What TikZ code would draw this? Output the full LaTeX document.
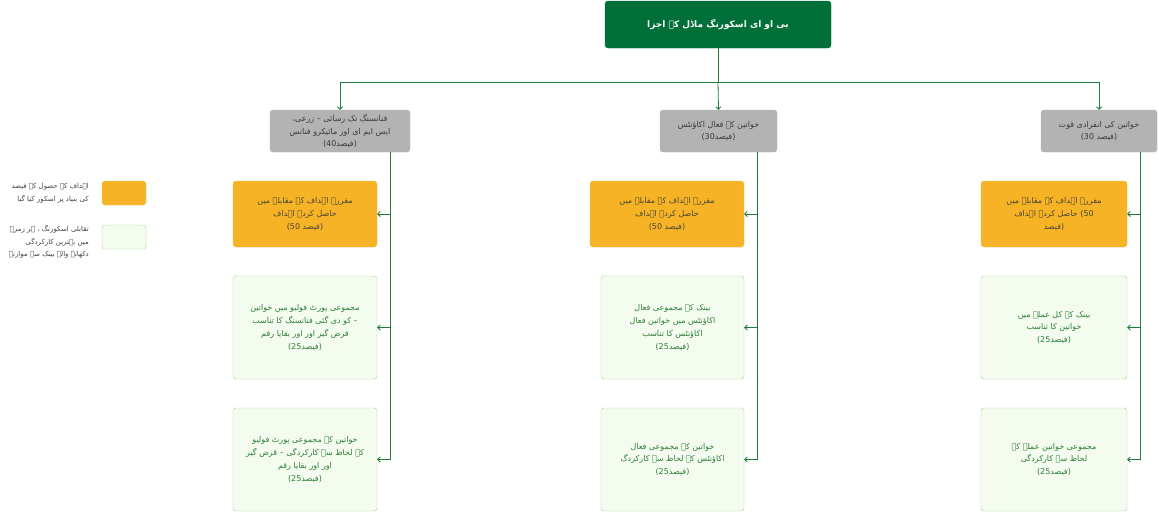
\documentclass[tikz,border=0pt]{standalone}
\usepackage{fontspec}
\setmainfont{DejaVu Sans}
\newfontfamily\urdu[Script=Arabic]{DejaVu Sans}
\TeXXeTstate=1
\usepackage{xcolor}
\usetikzlibrary{positioning,arrows.meta}
\definecolor{modelgreen}{HTML}{006F38}
\definecolor{linkgreen}{HTML}{1E7B3C}
\definecolor{pillargray}{HTML}{B3B3B3}
\definecolor{pillartext}{HTML}{3A3A3A}
\definecolor{goalorange}{HTML}{F5B325}
\definecolor{goaltext}{HTML}{4A4538}
\definecolor{peerfill}{HTML}{F4FCEF}
\definecolor{peerline}{HTML}{9DD692}
\definecolor{peertext}{HTML}{2E7D3A}
\definecolor{keytext}{HTML}{444444}
\newcommand{\ur}[1]{{\urdu\beginR #1\endR}}

\begin{document}
\begin{tikzpicture}[
  x=1pt, y=-1pt,
  every node/.style={
    font=\fontsize{8}{12.8}\selectfont,
    align=center,
    inner sep=2pt
  },
  box/.style={draw, rectangle, rounded corners=3pt},
  model/.style={box, draw=modelgreen, fill=modelgreen, text=white,
    font=\bfseries\fontsize{9}{12}\selectfont,
    minimum width=226pt, minimum height=47pt},
  pillar/.style={box, draw=pillargray, fill=pillargray, text=pillartext,
    minimum height=42pt},
  goal/.style={box, draw=goalorange!85!white, fill=goalorange, text=goaltext,
    minimum height=66pt},
  peer/.style={box, draw=peerline, fill=peerfill, text=peertext,
    minimum height=103pt},
  keytext/.style={text=keytext, align=right, anchor=east,
    font=\fontsize{7}{12.5}\selectfont},
  link/.style={draw=linkgreen, line width=0.8pt},
  feed/.style={link, -{Straight Barb[length=2.5pt,width=5pt]}}
]
\useasboundingbox (0,0) rectangle (1159,512);

\node[model] (model) at (718,24.5) {\ur{بی او ای اسکورنگ ماڈل کے اجزا}};

\node[pillar, minimum width=140pt] (finance) at (340,131) {
\ur{فنانسنگ تک رسائی – زرعی،}\\
\ur{ایس ایم ای اور مائیکرو فنانس}\\
(40\ur{فیصد})
};
\node[pillar, minimum width=117pt] (accounts) at (718.5,131) {
\ur{خواتین کے فعال اکاؤنٹس}\\
(30\ur{فیصد})
};
\node[pillar, minimum width=116pt] (force) at (1099,131) {
\ur{خواتین کی انفرادی قوت}\\
(30 \ur{فیصد})
};

\node[goal, minimum width=144pt] (financeGoal) at (305,214) {
\ur{مقررہ اہداف کے مقابلے میں}\\
\ur{حاصل کردہ اہداف}\\
(50 \ur{فیصد})
};
\node[peer, minimum width=144pt] (financeShare) at (305,327.5) {
\ur{مجموعی پورٹ فولیو میں خواتین}\\
\ur{کو دی گئی فنانسنگ کا تناسب} –\\
\ur{قرض گیر اور اور بقایا رقم}\\
(25\ur{فیصد})
};
\node[peer, minimum width=144pt] (financePerf) at (305,459.5) {
\ur{خواتین کے مجموعی پورٹ فولیو}\\
\ur{کے لحاظ سے کارکردگی – قرض گیر}\\
\ur{اور اور بقایا رقم}\\
(25\ur{فیصد})
};

\node[goal, minimum width=154pt] (accountsGoal) at (667,214) {
\ur{مقررہ اہداف کے مقابلے میں}\\
\ur{حاصل کردہ اہداف}\\
(50 \ur{فیصد})
};
\node[peer, minimum width=143pt] (accountsShare) at (672.5,327.5) {
\ur{بینک کے مجموعی فعال}\\
\ur{اکاؤنٹس میں خواتین فعال}\\
\ur{اکاؤنٹس کا تناسب}\\
(25\ur{فیصد})
};
\node[peer, minimum width=143pt] (accountsPerf) at (672.5,459.5) {
\ur{خواتین کے مجموعی فعال}\\
\ur{اکاؤنٹس کے لحاظ سے کارکردگ}\\
(25\ur{فیصد})
};

\node[goal, minimum width=146pt] (forceGoal) at (1054,214) {
\ur{مقررہ اہداف کے مقابلے میں}\\
\ur{حاصل کردہ اہداف} (50\\
\ur{فیصد})
};
\node[peer, minimum width=146pt] (forceShare) at (1054,327.5) {
\ur{بینک کے کل عملے میں}\\
\ur{خواتین کا تناسب}\\
(25\ur{فیصد})
};
\node[peer, minimum width=146pt] (forcePerf) at (1054,459.5) {
\ur{مجموعی خواتین عملے کے}\\
\ur{لحاظ سے کارکردگی}\\
(25\ur{فیصد})
};

\node[goal, minimum width=44pt, minimum height=24pt] (keyGoal) at (124,193) {};
\node[peer, minimum width=44pt, minimum height=24pt] (keyPeer) at (124,237) {};
\node[keytext] (keyGoalText) at (91,193) {
\ur{اہداف کے حصول کے فیصد}\\
\ur{کی بنیاد پر اسکور کیا گیا}
};
\node[keytext] (keyPeerText) at (91,242) {
\ur{تقابلی اسکورنگ ، ہر زمرے}\\
\ur{میں بہترین کارکردگی}\\
\ur{دکھانے والے بینک سے موازنہ}
};

\coordinate (bus) at (718,82);
\draw[link] (model) -- (bus);
\draw[feed] (bus) -| (finance.north);
\draw[feed] (bus) -- (accounts.north);
\draw[feed] (bus) -| (force.north);

\coordinate (financeRail) at ([xshift=-20pt]finance.south east);
\coordinate (accountsRail) at ([xshift=-20pt]accounts.south east);
\coordinate (forceRail) at ([xshift=-17pt]force.south east);

\draw[feed] (financeRail) |- (financeGoal.east);
\draw[feed] (financeRail) |- (financeShare.east);
\draw[feed] (financeRail) |- (financePerf.east);
\draw[feed] (accountsRail) |- (accountsGoal.east);
\draw[feed] (accountsRail) |- (accountsShare.east);
\draw[feed] (accountsRail) |- (accountsPerf.east);
\draw[feed] (forceRail) |- (forceGoal.east);
\draw[feed] (forceRail) |- (forceShare.east);
\draw[feed] (forceRail) |- (forcePerf.east);

\end{tikzpicture}
\end{document}
